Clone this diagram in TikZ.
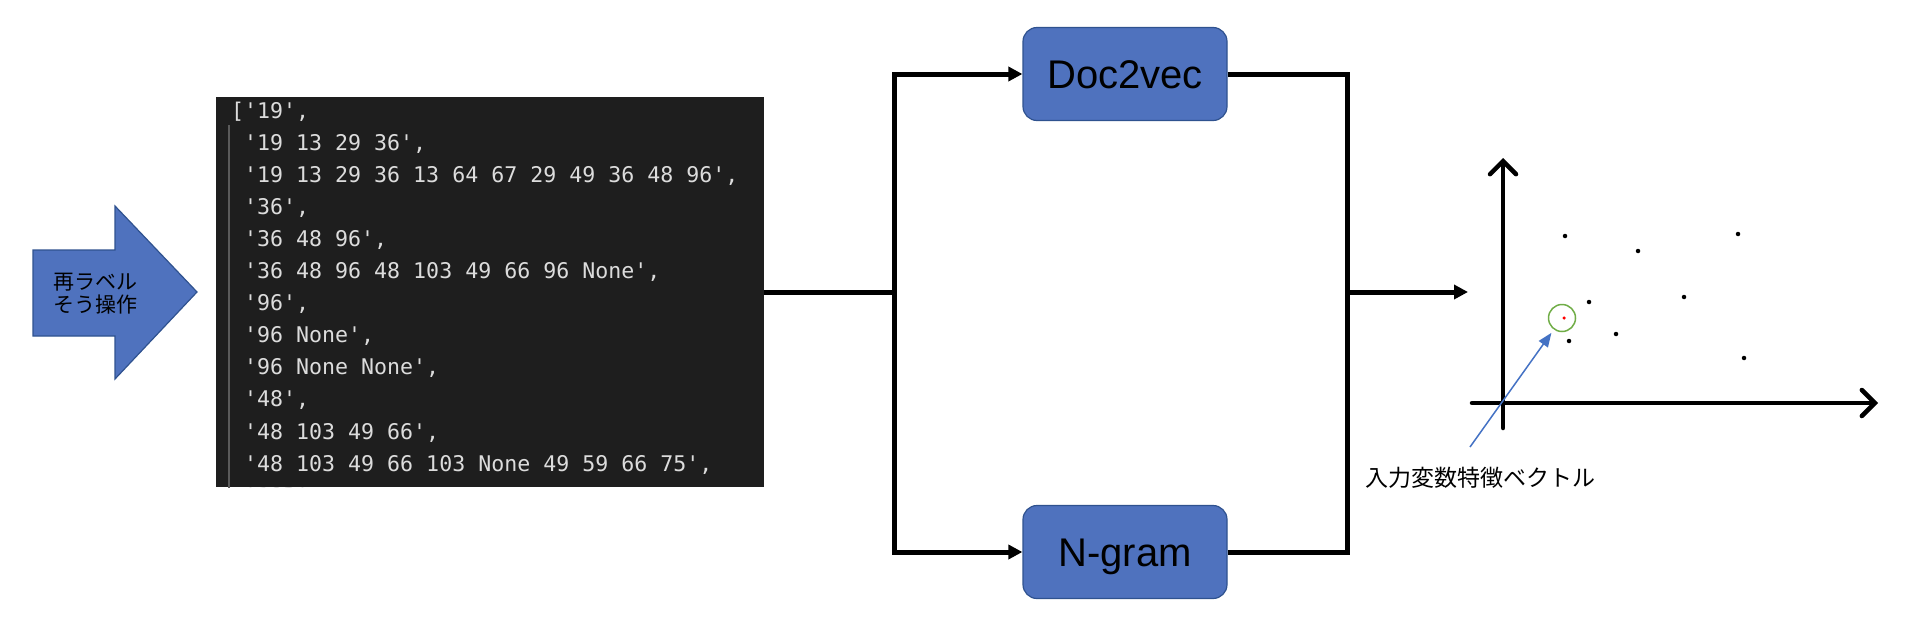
\documentclass[tikz,border=0pt]{standalone}
\usepackage{fontspec}
\setsansfont{Liberation Sans}
\setmonofont{DejaVu Sans Mono}
\newfontfamily\jpfont{Noto Sans CJK JP}
\usetikzlibrary{arrows.meta}
\definecolor{boxblue}{HTML}{4F72BE}
\definecolor{boxedge}{HTML}{2F528F}
\definecolor{codebg}{HTML}{1E1E1E}
\definecolor{codefg}{HTML}{DCDCDC}
\definecolor{guide}{HTML}{5A5A5A}
\definecolor{ptrblue}{HTML}{4472C4}
\definecolor{ringgreen}{HTML}{70AD47}

\begin{document}
\begin{tikzpicture}[x=1pt,y=-1pt,
  main/.style={draw=boxedge,line width=1.2pt,fill=boxblue,rounded corners=14pt,minimum width=204pt,minimum height=93pt,text height=29pt,text depth=0pt,font=\sffamily\fontsize{40}{48}\selectfont},
  code/.style={codefg,anchor=base west,inner sep=0pt,font=\ttfamily\fontsize{21.6}{25}\selectfont},
  flow/.style={line width=5pt},
  axis/.style={line width=4.5pt,line cap=round,-{Straight Barb[length=13pt,width=26pt,line cap=round]}},
  pt/.style={circle,fill=black,inner sep=0pt,minimum size=4.5pt}]
\useasboundingbox (0,0) rectangle (1908,624);

% relabel arrow
\draw[boxedge,fill=boxblue,line width=1.2pt] (33,250) -- (115,250) -- (115,206) -- (197,292) -- (115,379) -- (115,336) -- (33,336) -- cycle;
\node[align=center,inner sep=0pt,font=\jpfont\fontsize{21}{23}\selectfont] (0) at (95,294) {再ラベル\\そう操作};

% code output
\node[fill=codebg,minimum width=548pt,minimum height=390pt,inner sep=0pt] (1) at (490,292) {};
\begin{scope}
\clip (1.south west) rectangle (1.north east);
\draw[guide,line width=1.5pt] (229,125) -- (229,500);
\node[code] (c1) at (231,118) {['19',};
\foreach \t [count=\i from 2] in {{'19 13 29 36',},{'19 13 29 36 13 64 67 29 49 36 48 96',},{'36',},{'36 48 96',},{'36 48 96 48 103 49 66 96 None',},{'96',},{'96 None',},{'96 None None',},{'48',},{'48 103 49 66',},{'48 103 49 66 103 None 49 59 66 75',},{'103',}}
  \node[code] (c\i) at (244,{85.9+32.1*\i}) {\t};
\end{scope}

% models
\node[main] (2) at (1125,74) {Doc2vec};
\node[main] (3) at (1125,552) {N-gram};

\coordinate (j) at (894,292);
\coordinate (k) at (1347,292);
\coordinate (4) at (1468,292);

\draw[flow] (1.east) -- (j);
\draw[flow,-{Triangle[length=14pt,width=14pt]}] (j) |- (2);
\draw[flow,-{Triangle[length=14pt,width=14pt]}] (j) |- (3);
\draw[flow] (2) -| (k);
\draw[flow] (3) -| (k);
\draw[flow,-{Triangle[length=14pt,width=14pt]}] (k) -- (4);

% feature space
\draw[axis] (1472,403) -- (1878,403);
\draw[axis] (1503,428) -- (1503,158);
\foreach \p [count=\i] in {(1565,236),(1638,251),(1738,234),(1589,302),(1684,297),(1616,334),(1569,341),(1744,358)}
  \node[pt] (p\i) at \p {};
\node[circle,fill=red,inner sep=0pt,minimum size=3.5pt] (5) at (1564,318) {};
\node[circle,draw=ringgreen,line width=1.5pt,minimum size=27pt,inner sep=0pt] (6) at (1562,318) {};

\node[inner sep=0pt,font=\jpfont\fontsize{23}{27}\selectfont] (7) at (1480,478) {入力変数特徴ベクトル};
\coordinate (8) at (1470,447);
\draw[ptrblue,line width=1.5pt,shorten >=4pt,-{Triangle[length=14pt,width=11pt]}] (8) -- (6);

\end{tikzpicture}
\end{document}
